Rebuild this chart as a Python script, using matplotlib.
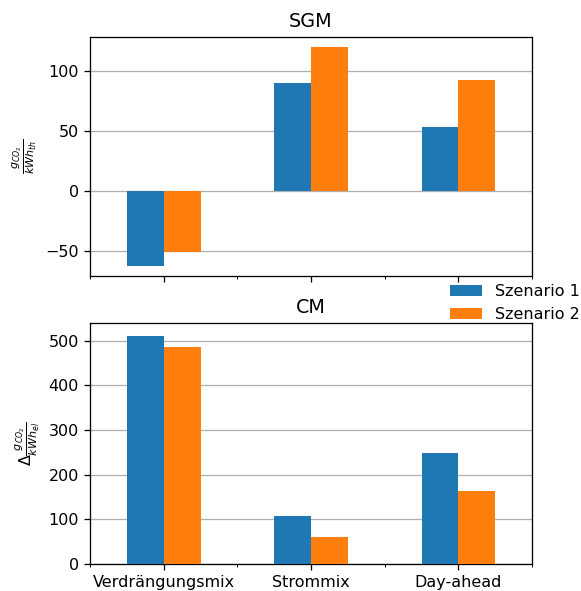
import matplotlib
matplotlib.use("Agg")
import matplotlib.pyplot as plt
import numpy as np

categories = ["Verdrängungsmix", "Strommix", "Day-ahead"]
series_names = ["Szenario 1", "Szenario 2"]
sgm_s1 = [-62.5, 90, 53.5]
sgm_s2 = [-50.5, 120, 92.5]
cm_s1 = [511, 108, 249]
cm_s2 = [487, 61, 164]

colors = ["#1f77b4", "#ff7f0e"]

DPI = 115
fig = plt.figure(figsize=(581 / DPI, 591 / DPI), dpi=DPI)
ax1 = fig.add_axes([90 / 581, 1 - 276 / 591, 442 / 581, 239 / 591])
ax2 = fig.add_axes([90 / 581, 1 - 564 / 591, 442 / 581, 241 / 591], sharex=ax1)

x = np.arange(len(categories))
w = 0.25


def draw(ax, s1, s2, title):
    ax.bar(x - w / 2, s1, w, color=colors[0], label=series_names[0], zorder=3)
    ax.bar(x + w / 2, s2, w, color=colors[1], label=series_names[1], zorder=3)
    ax.set_title(title)
    ax.yaxis.grid(True, color="#b0b0b0", linewidth=0.8, zorder=0)
    ax.set_axisbelow(True)
    ax.set_xticks(x)
    ax.set_xticks([-0.5, 0.5, 1.5, 2.5], minor=True)
    ax.set_xlim(-0.5, 2.5)


draw(ax1, sgm_s1, sgm_s2, "SGM")
draw(ax2, cm_s1, cm_s2, "CM")

ax1.set_ylim(-70.8, 128.3)
ax1.set_yticks([-50, 0, 50, 100])
ax1.tick_params(axis="x", labelbottom=False)
ax1.set_ylabel(r"$\frac{g_{CO_2}}{kWh_{th}}$")

ax2.set_ylim(0, 540)
ax2.set_yticks([0, 100, 200, 300, 400, 500])
ax2.set_xticklabels(categories)
ax2.set_ylabel(r"$\Delta\frac{g_{CO_2}}{kWh_{el}}$")

handles, labels = ax2.get_legend_handles_labels()
fig.legend(handles, labels, loc="upper right", bbox_to_anchor=(1.022, 1 - 270 / 591),
           frameon=False)

fig.savefig("out.png", dpi=DPI)
